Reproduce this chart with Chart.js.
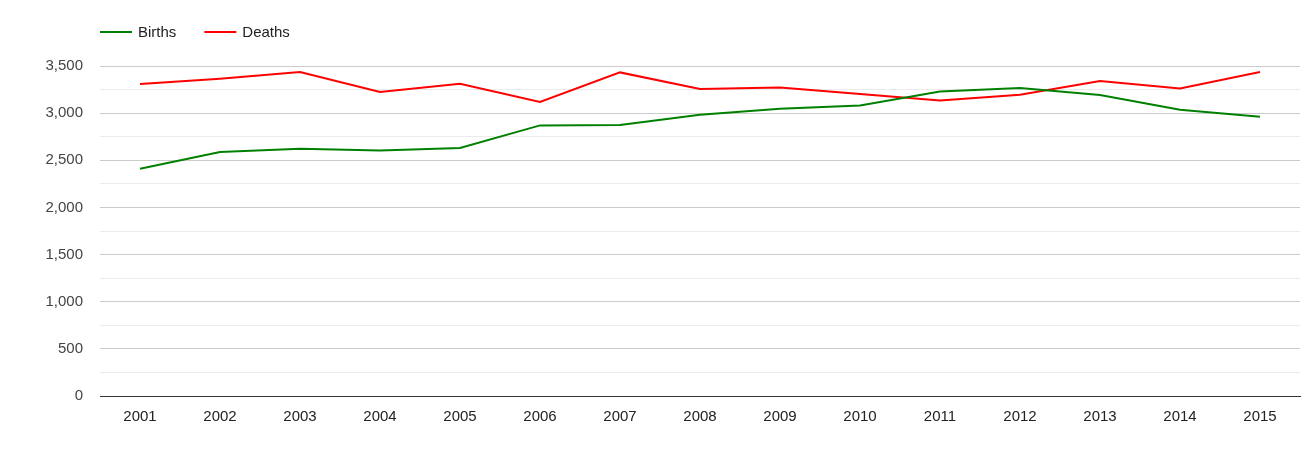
<!DOCTYPE html>
<html lang="en">
<head>
<meta charset="UTF-8">
<title>Births and deaths</title>
<script src="https://cdn.jsdelivr.net/npm/chart.js@4/dist/chart.umd.min.js"></script>
<style>
  html, body { margin: 0; padding: 0; background: #ffffff; }
  #wrap { width: 1305px; height: 450px; position: relative; }
</style>
</head>
<body>
<div id="wrap"><canvas id="chart_canvas"></canvas></div>
<script>
// values
var years = ['2001', '2002', '2003', '2004', '2005', '2006', '2007', '2008',
             '2009', '2010', '2011', '2012', '2013', '2014', '2015'];
var births = [2410, 2587, 2623, 2605, 2630, 2870, 2874, 2983,
              3047, 3082, 3230, 3266, 3192, 3036, 2962];
var deaths = [3310, 3365, 3436, 3224, 3312, 3118, 3432, 3256,
              3273, 3203, 3135, 3195, 3340, 3262, 3436];

var FONT = '"Liberation Sans", Arial, sans-serif';

function grid_colour(ctx) {
    var v = ctx.tick ? ctx.tick.value : 0;
    if (v === 0) return '#333333';
    return (v % 500 === 0) ? '#cccccc' : '#ebebeb';
}

// small legend drawn in the top left corner, a line sample and the name
var line_legend = {
    id: 'line_legend',
    afterDraw: function (chart) {
        var ctx = chart.ctx;
        var x = 100, y = 32;
        ctx.save();
        ctx.font = '15px ' + FONT;
        ctx.textBaseline = 'middle';
        ctx.textAlign = 'left';
        chart.data.datasets.forEach(function (ds) {
            ctx.strokeStyle = ds.borderColor;
            ctx.lineWidth = 2;
            ctx.beginPath();
            ctx.moveTo(x, y);
            ctx.lineTo(x + 32, y);
            ctx.stroke();
            ctx.fillStyle = '#222222';
            ctx.fillText(ds.label, x + 38, y + 1);
            x += 38 + ctx.measureText(ds.label).width + 28;
        });
        ctx.restore();
    }
};

window._chart = new Chart(document.getElementById('chart_canvas'), {
    type: 'line',
    data: {
        labels: years,
        datasets: [
            {
                label: 'Births',
                data: births,
                borderColor: '#008000',
                backgroundColor: '#008000',
                borderWidth: 2,
                pointRadius: 0,
                tension: 0
            },
            {
                label: 'Deaths',
                data: deaths,
                borderColor: '#ff0000',
                backgroundColor: '#ff0000',
                borderWidth: 2,
                pointRadius: 0,
                tension: 0
            }
        ]
    },
    plugins: [line_legend],
    options: {
        responsive: true,
        maintainAspectRatio: false,
        animation: false,
        layout: { padding: { left: 0, right: 5, top: 66, bottom: 12 } },
        plugins: {
            tooltip: { enabled: false },
            legend: { display: false }
        },
        scales: {
            x: {
                offset: true,
                grid: { display: false, drawTicks: false },
                border: { display: true, color: '#333333', width: 1 },
                ticks: {
                    color: '#222222',
                    padding: 12,
                    font: { family: FONT, size: 15 }
                }
            },
            y: {
                min: 0,
                max: 3500,
                afterFit: function (scale) { scale.width = 100; },
                border: { display: false },
                grid: { color: grid_colour, drawTicks: false, lineWidth: 1 },
                ticks: {
                    stepSize: 250,
                    autoSkip: false,
                    padding: 17,
                    color: '#444444',
                    font: { family: FONT, size: 15 },
                    callback: function (v) {
                        return (v % 500 === 0) ? v.toLocaleString('en-US') : '';
                    }
                }
            }
        }
    }
});
</script>
</body>
</html>
